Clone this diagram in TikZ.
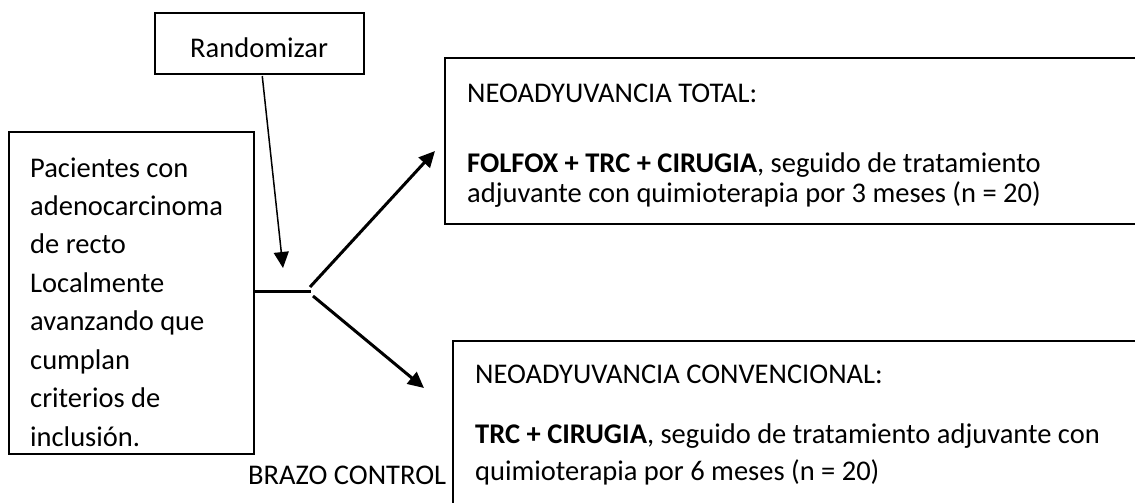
\documentclass[tikz,border=0pt]{standalone}
\usepackage{fontspec}
\setmainfont{Carlito}
\usetikzlibrary{arrows.meta,calc}
\begin{document}
\begin{tikzpicture}[x=1pt,y=-1pt,
  boxshape/.style={draw, inner sep=0pt, anchor=north west},
  txt/.style={anchor=base west, inner sep=0pt, font=\fontsize{28.5}{38}\selectfont},
  arr/.style={-{Triangle[length=16pt,width=15pt]}},
  thinline/.style={line width=1.5pt},
  boxline/.style={line width=2pt},
  thickline/.style={line width=3pt}]
\useasboundingbox (0,0) rectangle (1135,503);
\clip (0,0) rectangle (1135,503);
% Randomizar
\node[boxshape, thinline, minimum width=209pt, minimum height=61pt] (rand) at (154,12.5) {};
\node[txt] (randt) at (190,58) {Randomizar};
% Left box
\node[boxshape, thinline, minimum width=245pt, minimum height=322pt] (pac) at (8,131) {};
\node[txt] (p1) at (30,177) {Pacientes con};
\node[txt] (p2) at (30,215) {adenocarcinoma};
\node[txt] (p3) at (30,253) {de recto};
\node[txt] (p4) at (30,292) {Localmente};
\node[txt] (p5) at (30,330) {avanzando que};
\node[txt] (p6) at (30,369) {cumplan};
\node[txt] (p7) at (30,407) {criterios de};
\node[txt] (p8) at (30,446) {inclusión.};
% Top right box
\node[boxshape, boxline, minimum width=720pt, minimum height=166pt] (tot) at (444,57) {};
\node[txt] (t1) at (467,102) {NEOADYUVANCIA TOTAL:};
\node[txt] (t2) at (467,172) {\textbf{FOLFOX + TRC + CIRUGIA}, seguido de tratamiento};
\node[txt] (t3) at (467,202) {adjuvante con quimioterapia por 3 meses (n = 20)};
% Bottom right box
\node[boxshape, boxline, minimum width=720pt, minimum height=200pt] (conv) at (452,340) {};
\node[txt] (c1) at (475,383) {NEOADYUVANCIA CONVENCIONAL:};
\node[txt] (c2) at (475,443) {\textbf{TRC + CIRUGIA}, seguido de tratamiento adjuvante con};
\node[txt] (c3) at (475,480) {quimioterapia por 6 meses (n = 20)};
% Label
\node[txt] (brazo) at (248,484) {BRAZO CONTROL};
% Connectors
\coordinate (hit) at (283,268);
\coordinate (split) at (311,291.5);
\coordinate (upstart) at (310,287);
\coordinate (upend) at (435,151);
\coordinate (downstart) at (313,296);
\coordinate (downend) at (424,388);
\draw[arr, thinline] ($(rand.south)+(3,1)$) -- (hit);
\draw[thickline] (pac.east |- split) -- (split);
\draw[arr, thickline] (upstart) -- (upend);
\draw[arr, thickline] (downstart) -- (downend);
\end{tikzpicture}
\end{document}
